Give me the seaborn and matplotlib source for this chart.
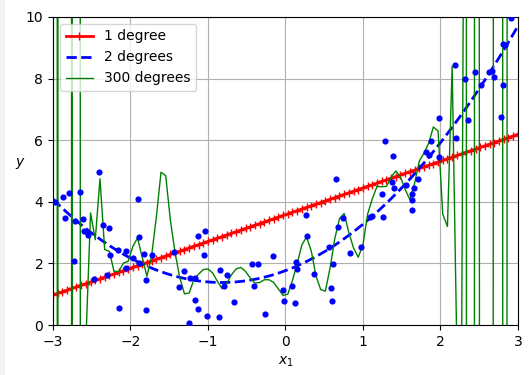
import numpy as np
import pandas as pd
import matplotlib
matplotlib.use("Agg")
import matplotlib.pyplot as plt
import seaborn as sns
from matplotlib.patches import Rectangle

# noisy quadratic samples
x_pts = [
    -2.968, -2.870, -2.793, -2.844, -2.728, -2.655, -2.715, -2.612, -2.599, -2.564,
    -2.548, -2.406, -2.470, -2.354, -2.277, -2.303, -2.264, -2.148, -2.062, -2.062,
    -1.968, -1.898, -1.894, -1.885, -1.800, -1.800, -1.723, -1.439, -1.375, -1.311,
    -1.250, -1.237, -1.173, -1.173, -1.125, -1.130, -1.053, -1.044, -1.009, -2.161,
    -1.826, -0.860, -0.847, -0.795, -0.756, -0.666, -0.434, -0.357, -0.409, -0.267,
    -0.164, -0.026, -0.022, 0.081, 0.120, 0.133, 0.146, 0.262, 0.274, 0.365,
    0.584, 0.597, 0.558, 0.610, 0.648, 0.674, 0.738, 0.829, 0.970, 1.091,
    1.112, 1.254, 1.241, 1.280, 1.383, 1.370, 1.396, 1.559, 1.628, 1.628,
    1.628, 1.653, 1.705, 1.808, 1.847, 1.885, 1.976, 1.988, 2.182, 2.200,
    2.323, 2.362, 2.452, 2.530, 2.633, 2.671, 2.697, 2.787, 2.813, 2.813,
    2.831, 2.916,
]
y_pts = [
    3.98, 4.16, 4.27, 3.48, 2.09, 4.33, 3.38, 3.44, 3.06, 3.02,
    2.92, 4.97, 1.50, 3.26, 3.15, 1.63, 2.28, 0.55, 2.40, 1.85,
    2.16, 4.09, 2.86, 2.01, 1.47, 0.50, 2.27, 2.37, 1.24, 1.76,
    0.07, 1.53, 1.53, 0.82, 0.52, 2.90, 2.27, 3.06, 0.30, 2.44,
    2.31, 0.27, 1.80, 1.27, 1.62, 0.75, 1.98, 1.98, 1.27, 0.36,
    2.24, 1.14, 0.78, 1.27, 0.71, 2.05, 1.82, 3.57, 2.88, 1.66,
    1.20, 0.78, 2.53, 1.98, 4.74, 3.17, 3.48, 2.34, 2.53, 3.51,
    3.53, 3.51, 4.26, 5.98, 5.49, 4.65, 4.45, 4.55, 4.26, 4.06,
    3.74, 4.45, 4.74, 5.62, 5.51, 5.98, 6.73, 5.46, 8.43, 6.08,
    7.99, 6.66, 8.22, 7.80, 8.22, 8.25, 8.06, 6.76, 7.80, 9.13,
    9.09, 9.96,
]

# 300-degree model evaluated on 100 points from -3 to 3
x_grid = np.linspace(-3, 3, 100)
y_300 = [
    1000, -100, 2000, 2000, -100, 2000, -470, -0.53, 3.64, 2.77,
    4.75, 2.45, 2.39, 1.74, 1.74, 2.01, 2.07, 2.55, 2.83, 2.2,
    1.58, 2.25, 3.5, 4.96, 4.85, 3.4, 2.34, 1.54, 1.01, 1.04,
    1.47, 1.65, 1.80, 1.82, 1.69, 1.42, 1.18, 1.36, 1.63, 1.82,
    1.87, 1.74, 1.53, 1.36, 1.38, 1.47, 1.47, 1.38, 1.17, 0.96,
    1.0, 1.45, 2.0, 2.6, 2.86, 2.4, 1.6, 1.15, 1.1, 1.85,
    2.8, 3.45, 3.62, 3.0, 2.5, 2.2, 2.6, 3.6, 4.1, 4.5,
    4.49, 4.5, 4.8, 5.0, 4.8, 4.4, 4.07, 4.6, 5.32, 5.58,
    5.9, 6.43, 6.3, 3.6, 3.2, 8.4, -0.8, -1.4, 31.6, -700,
    240, -56, -500, -300, 103, 1000, -300, 141, 1000, 1000,
]

df = pd.DataFrame({"x": x_pts, "y": y_pts})

fig, ax = plt.subplots(figsize=(5.29, 3.75), dpi=100)
fig.subplots_adjust(left=0.1002, right=0.979, bottom=0.1333, top=0.9547)
# faint strip along the left edge of the original image
fig.patches.append(Rectangle((0, 0), 5 / 529, 1, transform=fig.transFigure,
                             facecolor="#f3f3f3", edgecolor="none", zorder=0))
ax.set_xlim(-3, 3)

# polynomial fits of degree 1 and 2 over the full axis range
sns.regplot(data=df, x="x", y="y", order=1, ci=None, scatter=False, truncate=False,
            label="1 degree", ax=ax,
            line_kws=dict(color="r", linewidth=2, marker="+", markersize=6))
sns.regplot(data=df, x="x", y="y", order=2, ci=None, scatter=False, truncate=False,
            label="2 degrees", ax=ax,
            line_kws=dict(color="b", linewidth=2, linestyle="--"))
sns.lineplot(x=x_grid, y=y_300, sort=False, estimator=None, color="g", linewidth=1,
             label="300 degrees", ax=ax)

sns.scatterplot(data=df, x="x", y="y", color="b", s=20, linewidth=0, zorder=3, ax=ax)

ax.set_xlim(-3, 3)
ax.set_ylim(0, 10)
ax.grid(True)
ax.set_xlabel("$x_1$", fontsize=10)
ax.set_ylabel("$y$", rotation=0, fontsize=10)
ax.tick_params(labelsize=10)
ax.legend(loc="upper left", fontsize=10)

fig.savefig("out.png", dpi=100)
